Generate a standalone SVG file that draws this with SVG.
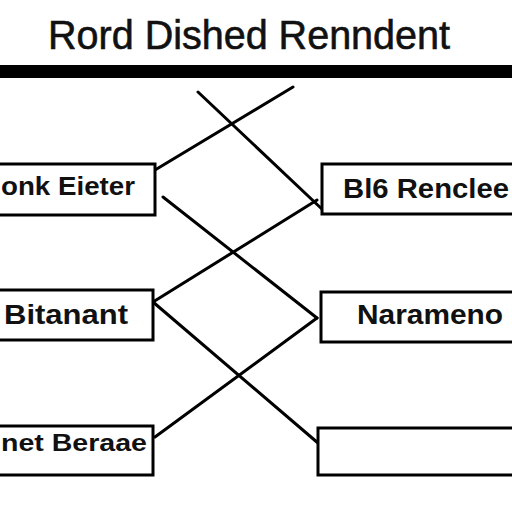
<svg xmlns="http://www.w3.org/2000/svg" width="512" height="512" viewBox="0 0 512 512">
<style>
.box{fill:#fff;stroke:#000;stroke-width:3}
.lbl{font-family:"Liberation Sans",Arial,sans-serif;font-weight:bold;fill:#111}
.ln{stroke:#000;stroke-width:3;fill:none;stroke-linecap:round}
</style>
<rect width="512" height="512" fill="#fff"/>
<text x="48" y="49" font-family="'Liberation Sans',Arial,sans-serif" font-size="40" fill="#111" stroke="#111" stroke-width="0.6" textLength="402" lengthAdjust="spacingAndGlyphs">Rord Dished Renndent</text>
<rect x="0" y="65" width="512" height="13" fill="#000"/>
<g id="connectors">
<line class="ln" x1="198" y1="92" x2="324" y2="211"/>
<line class="ln" x1="293" y1="87" x2="155" y2="170"/>
<line class="ln" x1="163" y1="197" x2="317" y2="318"/>
<line class="ln" x1="153" y1="302" x2="317" y2="200"/>
<line class="ln" x1="153" y1="302" x2="318" y2="443"/>
<line class="ln" x1="317" y1="318" x2="155" y2="437"/>
</g>
<g id="node-left-1">
<rect class="box" x="-5" y="164" width="160" height="51"/>
<text class="lbl" x="1" y="195" font-size="25" textLength="134" lengthAdjust="spacingAndGlyphs">onk Eieter</text>
</g>
<g id="node-left-2">
<rect class="box" x="-5" y="290" width="158" height="50"/>
<text class="lbl" x="4" y="324" font-size="27" textLength="124" lengthAdjust="spacingAndGlyphs">Bitanant</text>
</g>
<g id="node-left-3">
<rect class="box" x="-5" y="426" width="158" height="49"/>
<text class="lbl" x="1" y="451" font-size="24" textLength="146" lengthAdjust="spacingAndGlyphs">net Beraae</text>
</g>
<g id="node-right-1">
<rect class="box" x="322" y="164" width="200" height="50"/>
<text class="lbl" x="343" y="198" font-size="27" textLength="166" lengthAdjust="spacingAndGlyphs">Bl6 Renclee</text>
</g>
<g id="node-right-2">
<rect class="box" x="321" y="292" width="200" height="50"/>
<text class="lbl" x="357" y="324" font-size="28" textLength="146" lengthAdjust="spacingAndGlyphs">Narameno</text>
</g>
<g id="node-right-3">
<rect class="box" x="318" y="428" width="203" height="47"/>
</g>
</svg>
